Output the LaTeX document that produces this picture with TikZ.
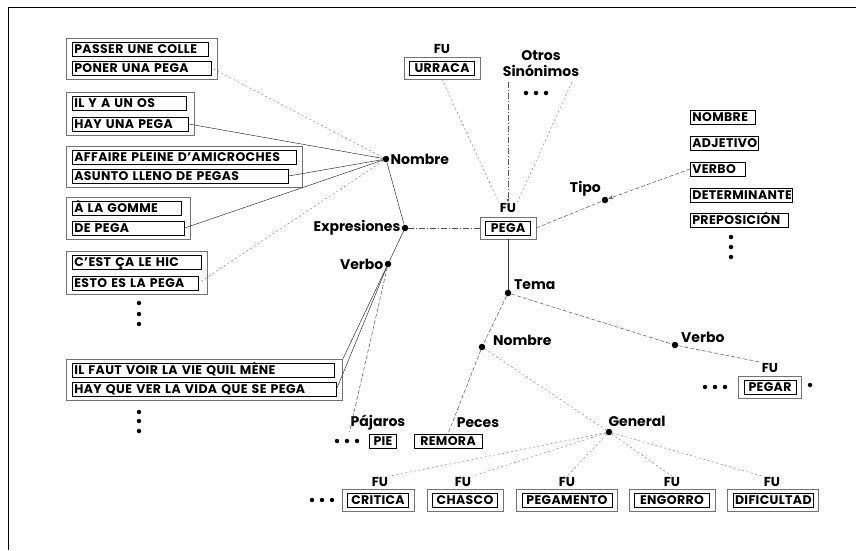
\documentclass[tikz,border=0pt]{standalone}
\usepackage{fontspec}
\setmainfont{Poppins}
\usetikzlibrary{fit,arrows.meta}
\newcommand\bxf{\fontsize{12.5}{12.5}\selectfont\bfseries\addfontfeature{LetterSpace=3}}
\newcommand\lbf{\fontsize{14}{16}\selectfont\bfseries}
\newcommand\fuf{\fontsize{13}{13}\selectfont\bfseries}
\begin{document}
\begin{tikzpicture}[x=1pt,y=-1pt,
  ib/.style={draw, line width=0.6pt, font=\bxf, inner xsep=2pt, inner ysep=0pt,
    minimum height=14pt, text height=9pt, text depth=0pt, text width=#1, align=left},
  ibc/.style={ib=#1, align=center},
  ob/.style={draw=black!55, line width=0.5pt, inner xsep=6pt, inner ysep=3.5pt},
  obs/.style={draw=black!55, line width=0.5pt, inner xsep=5pt, inner ysep=3.5pt},
  lbl/.style={font=\lbf, inner sep=1pt},
  fu/.style={font=\fuf, inner sep=1pt},
  pt/.style={circle, fill=black, inner sep=0pt, minimum size=6.5pt},
  sd/.style={circle, fill=black, inner sep=0pt, minimum size=4.5pt},
  sol/.style={draw=black!80, line width=0.5pt},
  dsh/.style={draw=black!65, line width=0.5pt, dash pattern=on 4pt off 2pt},
  dd/.style={draw=black!65, line width=0.5pt, dash pattern=on 6pt off 2pt on 1pt off 2pt},
  dot/.style={draw=black!45, line width=0.5pt, dash pattern=on 2pt off 2.5pt}
]
\useasboundingbox (0,0) rectangle (856,550);
\draw[line width=1pt] (8,550) -- (8,7) -- (856,7);

% left groups
\node[ib=132, anchor=west] (a1) at (72,49) {PASSER UNE COLLE};
\node[ib=135, anchor=west] (a2) at (72,68) {PONER UNA PEGA};
\node[ob, fit=(a1)(a2)] (ga) {};
\node[ib=110, anchor=west] (b1) at (72,103) {IL Y A UN OS};
\node[ib=112, anchor=west] (b2) at (72,124) {HAY UNA PEGA};
\node[ob, fit=(b1)(b2)] (gb) {};
\node[ib=220, anchor=west] (c1) at (72,157) {AFFAIRE PLEINE D'AMICROCHES};
\node[ib=212, anchor=west] (c2) at (72,176) {ASUNTO LLENO DE PEGAS};
\node[ob, fit=(c1)(c2)] (gc) {};
\node[ib=105, anchor=west] (d1) at (72,208) {À LA GOMME};
\node[ib=108, anchor=west] (d2) at (72,228) {DE PEGA};
\node[ob, fit=(d1)(d2)] (gd) {};
\node[ib=125, anchor=west] (e1) at (72,262) {C'EST ÇA LE HIC};
\node[ib=122, anchor=west] (e2) at (72,283) {ESTO ES LA PEGA};
\node[ob, fit=(e1)(e2)] (ge) {};
\node[ib=258, anchor=west] (f1) at (72,370) {IL FAUT VOIR LA VIE QUIL MÈNE};
\node[ib=260, anchor=west] (f2) at (72,389) {HAY QUE VER LA VIDA QUE SE PEGA};
\node[ob, fit=(f1)(f2)] (gf) {};
\node[sd] (v1) at (139,303) {};
\node[sd] (v2) at (139,314) {};
\node[sd] (v3) at (139,324) {};
\node[sd] (v4) at (139,412) {};
\node[sd] (v5) at (139,421) {};
\node[sd] (v6) at (139,431) {};

% central nodes
\node[pt] (nomL) at (386,159) {};
\node[lbl, anchor=west] (nomLl) at (nomL.east) {Nombre};
\node[pt] (expr) at (405,228) {};
\node[lbl, anchor=east] (exprl) at (expr.west) {Expresiones};
\node[pt] (verL) at (388,264) {};
\node[lbl, anchor=east] (verLl) at (verL.west) {Verbo};

\node[fu] (fupega) at (508,208) {FU};
\node[ibc=41] (pega) at (508,228) {PEGA};
\node[obs, fit=(pega)] (pegaO) {};

\node[fu] (fuurr) at (442,49) {FU};
\node[ibc=61] (urraca) at (442,68) {URRACA};
\node[obs, fit=(urraca)] (urracaO) {};

\node[lbl, align=center] (otros) at (541,64) {Otros\\Sinónimos};
\node[sd] (o1) at (526,93) {};
\node[sd] (o2) at (536,93) {};
\node[sd] (o3) at (546,93) {};
\coordinate (topA) at (508,82);
\coordinate (topB) at (572,82);

\node[pt] (tipo) at (605,200) {};
\node[lbl, anchor=south east] (tipol) at (602,197) {Tipo};
\node[ib=61, anchor=west] (t1) at (690,117) {NOMBRE};
\node[ib=64, anchor=west] (t2) at (690,143) {ADJETIVO};
\node[ib=51, anchor=west] (t3) at (690,169) {VERBO};
\node[ib=98, anchor=west] (t4) at (690,195) {DETERMINANTE};
\node[ib=94, anchor=west] (t5) at (690,220) {PREPOSICIÓN};
\node[sd] (t6) at (731,237) {};
\node[sd] (t7) at (731,247) {};
\node[sd] (t8) at (731,257) {};

\node[pt] (tema) at (508,293) {};
\node[lbl, anchor=west] (temal) at (513,285) {Tema};

\node[pt] (verR) at (675,345) {};
\node[lbl, anchor=west] (verRl) at (680,337) {Verbo};
\node[fu] (fupegar) at (770,368) {FU};
\node[ibc=48] (pegar) at (770,387) {PEGAR};
\node[obs, fit=(pegar)] (pegarO) {};
\node[sd] (p1) at (705,387) {};
\node[sd] (p2) at (715,387) {};
\node[sd] (p3) at (725,387) {};
\node[sd] (p4) at (810,385) {};

\node[pt] (nomR) at (482,347) {};
\node[lbl, anchor=west] (nomRl) at (492,340) {Nombre};
\node[lbl] (peces) at (478,423) {Peces};
\node[ibc=64] (remora) at (448,441) {REMORA};
\node[lbl] (pajaros) at (378,423) {Pájaros};
\node[ibc=23] (pie) at (383,441) {PIE};
\node[sd] (q1) at (337,441) {};
\node[sd] (q2) at (347,441) {};
\node[sd] (q3) at (357,441) {};

\node[pt] (gen) at (609,432) {};
\node[lbl] (genl) at (637,421) {General};

% bottom row
\node[fu] (fu1) at (380,482) {FU};
\node[ibc=57] (b1x) at (378,500) {CRITICA};
\node[obs, fit=(b1x)] (b1o) {};
\node[fu] (fu2) at (463,482) {FU};
\node[ibc=61] (b2x) at (465,500) {CHASCO};
\node[obs, fit=(b2x)] (b2o) {};
\node[fu] (fu3) at (567,482) {FU};
\node[ibc=86] (b3x) at (567,500) {PEGAMENTO};
\node[obs, fit=(b3x)] (b3o) {};
\node[fu] (fu4) at (672,482) {FU};
\node[ibc=71] (b4x) at (672,500) {ENGORRO};
\node[obs, fit=(b4x)] (b4o) {};
\node[fu] (fu5) at (772,482) {FU};
\node[ibc=76] (b5x) at (773,500) {DIFICULTAD};
\node[obs, fit=(b5x)] (b5o) {};
\node[sd] (r1) at (312,500) {};
\node[sd] (r2) at (322,500) {};
\node[sd] (r3) at (332,500) {};

% connectors
\draw[dot] (nomL) -- (a2.east);
\draw[sol] (nomL) -- (b2.east);
\draw[sol] (nomL) -- (c2.east);
\draw[sol] (nomL) -- (d2.east);
\draw[dot] (nomL) -- (e2.east);
\draw[sol] (nomL) -- (expr);
\draw[sol] (expr) -- (verL);
\draw[dd] (expr) -- (pegaO.west);
\draw[sol] (verL) -- (gf.north east);
\draw[sol] (verL) -- (f2.east);
\draw[dsh] (verL) -- (pajaros.south west);
\draw[dot] (urracaO.south) -- (fupega.north west);
\draw[dd, -{Stealth[length=4pt,width=3pt]}] (topA) -- (fupega.north);
\draw[dot] (topB) -- (fupega.north east);
\draw[dsh] (pegaO.east) -- (tipo);
\draw[dsh, -{Stealth[length=5pt,width=4pt]}] (t3.west) -- (tipo);
\draw[sol] (pegaO.south) -- (tema);
\draw[dsh] (tema) -- (verR);
\draw[dsh] (verR) -- (fupegar.north west);
\draw[dsh] (tema) -- (nomR);
\draw[dsh] (nomR) -- (remora.north);
\draw[dot] (nomR) -- (gen);
\draw[dot] (gen) -- (fu1.north east);
\draw[dot] (gen) -- (fu2.north east);
\draw[dot] (gen) -- (fu3.north);
\draw[dot] (gen) -- (fu4.north);
\draw[dot] (gen) -- (fu5.north west);
\end{tikzpicture}
\end{document}
